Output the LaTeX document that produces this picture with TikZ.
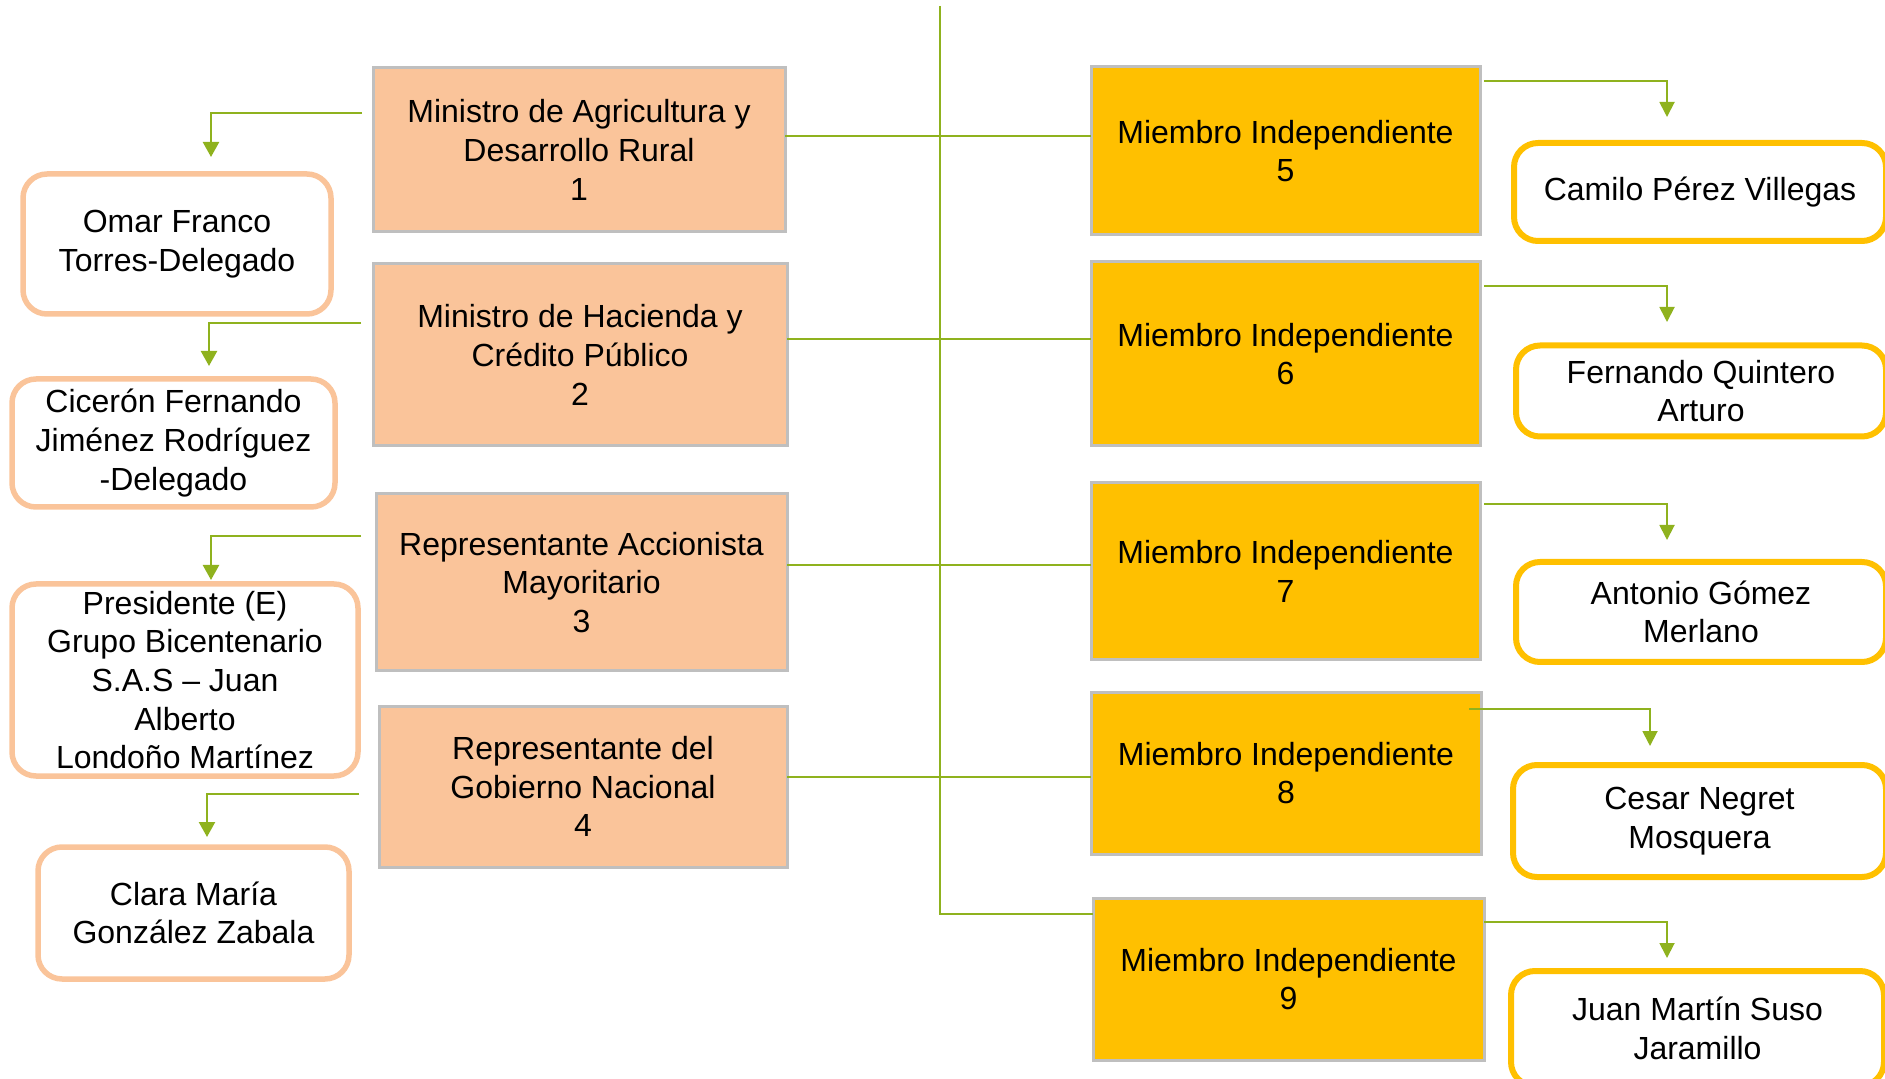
\documentclass[tikz,border=0pt]{standalone}
\usepackage{fontspec}
\setmainfont{Liberation Sans}
\usetikzlibrary{arrows.meta}
\definecolor{peach}{RGB}{250,196,154}
\definecolor{gold}{RGB}{255,192,0}
\definecolor{grayb}{RGB}{191,191,191}
\definecolor{lgreen}{RGB}{143,178,30}
\begin{document}
\begin{tikzpicture}[x=0.5pt,y=-0.5pt,
 txt/.style={font=\fontsize{16}{19.3}\selectfont, align=center, text=black},
 sz/.style 2 args={minimum width=#1pt, minimum height=#2pt},
 pbox/.style={txt, draw=grayb, line width=1.5pt, fill=peach, inner sep=0pt, outer sep=0pt},
 ybox/.style={txt, draw=grayb, line width=1.5pt, fill=gold, inner sep=0pt, outer sep=0pt},
 pname/.style={txt, draw=peach, line width=2.75pt, fill=white, rounded corners=12pt, inner sep=0pt, outer sep=0pt},
 yname/.style={txt, draw=gold, line width=3pt, fill=white, rounded corners=12pt, inner sep=0pt, outer sep=0pt},
 arr/.style={draw=lgreen, line width=1.2pt, -{Triangle[length=7.5pt,width=8pt]}},
 arrr/.style={draw=lgreen, line width=0.95pt, -{Triangle[length=7.5pt,width=7.5pt]}},
 link/.style={draw=lgreen, line width=0.8pt}]
\useasboundingbox (0,0) rectangle (1885,1079);
% left representative boxes
\node[pbox, sz={206}{82}] (b1) at (579,150) {Ministro de Agricultura y\\Desarrollo Rural\\1};
\node[pbox, sz={207}{91}] (b2) at (580,355) {Ministro de Hacienda y\\Crédito Público\\2};
\node[pbox, sz={205.5}{88.5}] (b3) at (581.5,582.5) {Representante Accionista\\Mayoritario\\3};
\node[pbox, sz={204}{80.5}] (b4) at (583,786.5) {Representante del\\Gobierno Nacional\\4};
% left names
\node[pname, sz={154}{70}] (omar) at (177,244) {Omar Franco\\Torres-Delegado};
\node[pname, sz={161.5}{64}] (cic) at (173.5,443) {Cicerón Fernando\\Jiménez Rodríguez\\-Delegado};
\node[pname, sz={173}{96}] (pres) at (185,680) {Presidente (E)\\Grupo Bicentenario\\S.A.S – Juan\\Alberto\\Londoño Martínez};
\node[pname, sz={155.5}{66}] (clara) at (193.5,913) {Clara María\\González Zabala};
% independent members
\node[ybox, sz={194.5}{84}] (m5) at (1285.5,151) {Miembro Independiente\\5};
\node[ybox, sz={194.5}{92}] (m6) at (1285.5,354) {Miembro Independiente\\6};
\node[ybox, sz={194.5}{88.5}] (m7) at (1285.5,571.5) {Miembro Independiente\\7};
\node[ybox, sz={195}{81}] (m8) at (1286,773) {Miembro Independiente\\8};
\node[ybox, sz={195.5}{81}] (m9) at (1288.5,979) {Miembro Independiente\\9};
% right names
\node[yname, sz={186}{49}] (camilo) at (1700,192) {Camilo Pérez Villegas};
\node[yname, sz={185}{45.5}] (fern) at (1701,391) {Fernando Quintero\\Arturo};
\node[yname, sz={185}{50}] (anto) at (1701,612) {Antonio Gómez\\Merlano};
\node[yname, sz={186.5}{56}] (cesar) at (1699.5,821) {Cesar Negret\\Mosquera};
\node[yname, sz={186.5}{57.5}] (juan) at (1697.5,1028.5) {Juan Martín Suso\\Jaramillo};
% trunk and links
\coordinate (tt) at (940,6);
\coordinate (h1) at (940,136);
\coordinate (h2) at (940,339);
\coordinate (h3) at (940,565);
\coordinate (h4) at (940,777);
\coordinate (h9) at (940,914);
\draw[link] (tt) -- (h9) -- (m9.west |- h9);
\draw[link] (b1.east |- h1) -- (m5.west |- h1);
\draw[link] (b2.east |- h2) -- (m6.west |- h2);
\draw[link] (b3.east |- h3) -- (m7.west |- h3);
\draw[link] (b4.east |- h4) -- (m8.west |- h4);
% left arrows
\coordinate (l1) at (362,113); \coordinate (t1) at (211,157);
\coordinate (l2) at (361,323); \coordinate (t2) at (209,366);
\coordinate (l3) at (361,536); \coordinate (t3) at (211,580);
\coordinate (l4) at (359,794); \coordinate (t4) at (207,837);
\draw[arr] (l1) -| (t1);
\draw[arr] (l2) -| (t2);
\draw[arr] (l3) -| (t3);
\draw[arr] (l4) -| (t4);
% right arrows
\coordinate (r5) at (1484,81);  \coordinate (u5) at (1667,117);
\coordinate (r6) at (1484,286); \coordinate (u6) at (1667,322);
\coordinate (r7) at (1484,504); \coordinate (u7) at (1667,540);
\coordinate (r8) at (1469,709); \coordinate (u8) at (1650,746);
\coordinate (r9) at (1484,922); \coordinate (u9) at (1667,958);
\draw[arrr] (r5) -| (u5);
\draw[arrr] (r6) -| (u6);
\draw[arrr] (r7) -| (u7);
\draw[arrr] (r8) -| (u8);
\draw[arrr] (r9) -| (u9);
\end{tikzpicture}
\end{document}
